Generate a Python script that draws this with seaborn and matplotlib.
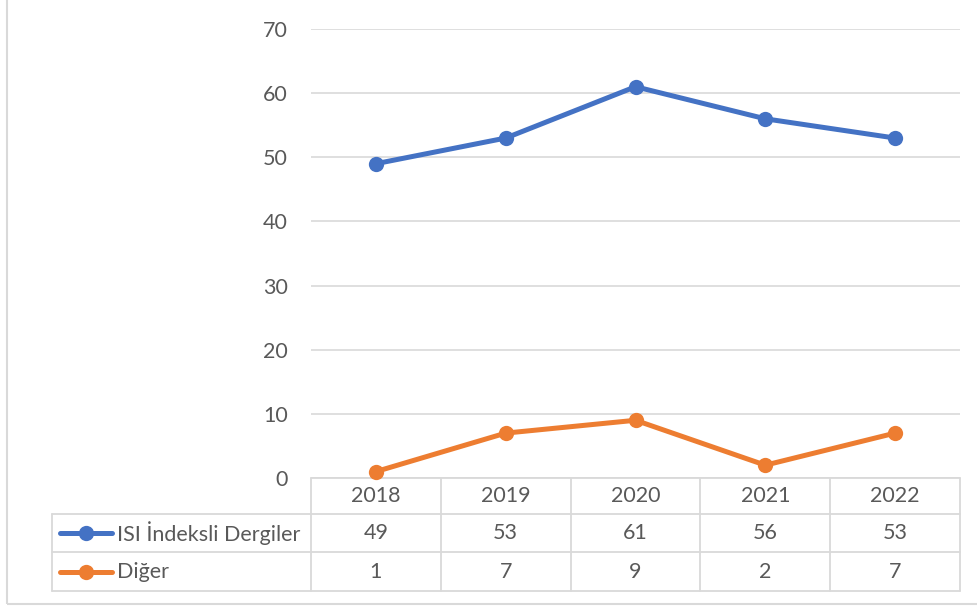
import pandas as pd
import matplotlib.pyplot as plt
import seaborn as sns
from matplotlib.lines import Line2D
from matplotlib.patches import Rectangle

# -----------------------------
# data
# -----------------------------
years = [2018, 2019, 2020, 2021, 2022]
isi_values = [49, 53, 61, 56, 53]
diger_values = [1, 7, 9, 2, 7]
series_names = ["ISI İndeksli Dergiler", "Diğer"]
colors = ["#4472C4", "#ED7D31"]
y_ticks = [0, 10, 20, 30, 40, 50, 60, 70]

df = pd.DataFrame({
    "year": years * 2,
    "value": isi_values + diger_values,
    "series": [series_names[0]] * len(years) + [series_names[1]] * len(years),
})

sns.set_theme(style="white")
plt.rcParams["font.family"] = ["Lato", "DejaVu Sans"]
text_color = "#595959"
grid_color = "#D9D9D9"
fs = 15.5

W, H = 978, 608
fig = plt.figure(figsize=(W / 100, H / 100), dpi=100)
# plot area in pixels: x 311..960, y 29..478
ax = fig.add_axes([311 / W, 1 - 478 / H, (960 - 311) / W, (478 - 29) / H])

sns.lineplot(
    data=df, x="year", y="value", hue="series", palette=colors,
    marker="o", markersize=11, markeredgewidth=0, linewidth=3.6,
    legend=False, ax=ax, clip_on=False, zorder=5,
)

ax.set_xlim(years[0] - 0.5, years[-1] + 0.5)
ax.set_ylim(0, 70)
ax.set_yticks(y_ticks)
ax.set_xticks([])
ax.set_xlabel("")
ax.set_ylabel("")
ax.tick_params(axis="y", length=0, pad=16.5, labelsize=fs, labelcolor=text_color)
for s in ax.spines.values():
    s.set_visible(False)
ax.grid(axis="y", color=grid_color, linewidth=1.2)
ax.set_axisbelow(True)

# -----------------------------
# data table below the axis
# -----------------------------
tr = ax.get_xaxis_transform()
ah = 478 - 29
row_edges = [0, -(514 - 478) / ah, -(552 - 478) / ah, -(591 - 478) / ah]
left_edge = years[0] - 0.5 - (311 - 52) / 129.8
right_edge = years[-1] + 0.5
lw_tab = 1.3

# horizontal lines
ax.add_line(Line2D([years[0] - 0.5, right_edge], [row_edges[0]] * 2, transform=tr,
                   color=grid_color, lw=lw_tab, clip_on=False))
for ry in row_edges[1:]:
    ax.add_line(Line2D([left_edge, right_edge], [ry] * 2, transform=tr,
                       color=grid_color, lw=lw_tab, clip_on=False))
# vertical lines
ax.add_line(Line2D([left_edge] * 2, [row_edges[1], row_edges[3]], transform=tr,
                   color=grid_color, lw=lw_tab, clip_on=False))
for i in range(len(years) + 1):
    xv = years[0] - 0.5 + i
    ax.add_line(Line2D([xv] * 2, [row_edges[0], row_edges[3]], transform=tr,
                       color=grid_color, lw=lw_tab, clip_on=False))

header_y = (row_edges[0] + row_edges[1]) / 2
row_ys = [(row_edges[1] + row_edges[2]) / 2, (row_edges[2] + row_edges[3]) / 2]

for yr in years:
    ax.text(yr, header_y, str(yr), transform=tr, ha="center", va="center",
            fontsize=fs, color=text_color)

px = 1 / 129.8
for name, vals, col, ry in zip(series_names, [isi_values, diger_values], colors, row_ys):
    x0 = left_edge + (60 - 52) * px
    x1 = left_edge + (112 - 52) * px
    ax.add_line(Line2D([x0, x1], [ry, ry], transform=tr, color=col, lw=3.6,
                       solid_capstyle="round", clip_on=False))
    ax.add_line(Line2D([(x0 + x1) / 2], [ry], transform=tr, color=col, marker="o",
                       markersize=11, markeredgewidth=0, clip_on=False))
    ax.text(left_edge + (117 - 52) * px, ry, name, transform=tr, ha="left",
            va="center", fontsize=fs, color=text_color)
    for yr, v in zip(years, vals):
        ax.text(yr, ry, str(v), transform=tr, ha="center", va="center",
                fontsize=fs, color=text_color)

# outer chart border
fig.patches.append(Rectangle((7 / W, 1 - 604 / H), (990 - 7) / W, 604 / H + 0.01,
                             transform=fig.transFigure, fill=False,
                             edgecolor=grid_color, linewidth=1.5))

fig.savefig("out.png", dpi=100, facecolor="white")
